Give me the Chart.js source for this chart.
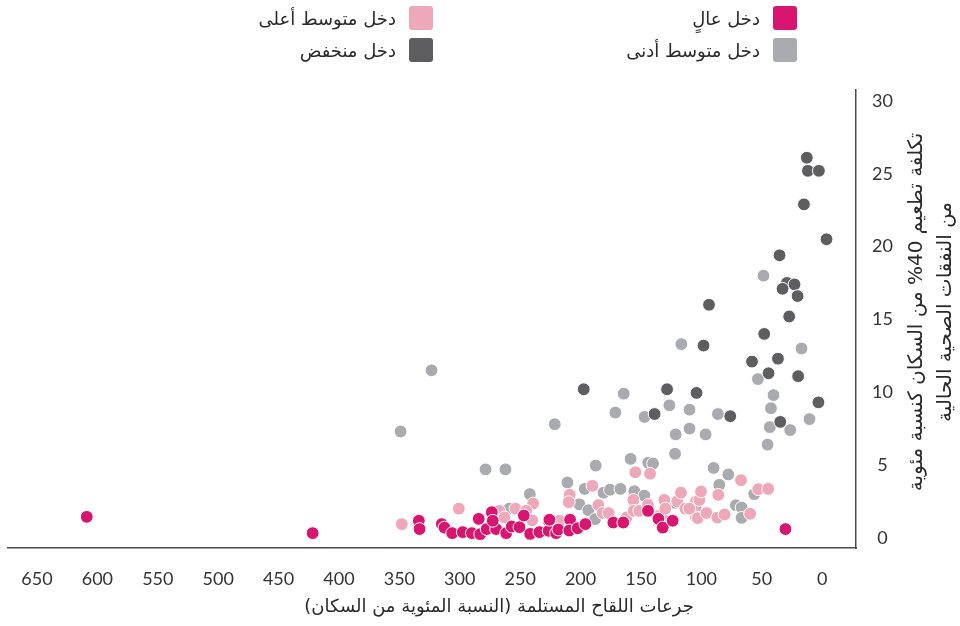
<!DOCTYPE html>
<html lang="ar">
<head>
<meta charset="utf-8">
<script src="https://cdn.jsdelivr.net/npm/chart.js@4.4.1/dist/chart.umd.min.js"></script>
<style>
html,body{margin:0;padding:0;background:#fff;}
#wrap{position:relative;width:960px;height:626px;overflow:hidden;}
#c{position:absolute;left:0;top:0;}
.lg{position:absolute;direction:rtl;display:flex;align-items:center;font-family:"DejaVu Sans",sans-serif;font-size:18px;color:#2a2a2a;white-space:nowrap;height:24px;}
.sw{width:24px;height:24px;border-radius:3px;margin-left:13px;flex:none;}
</style>
</head>
<body>
<div id="wrap">
<canvas id="c" width="960" height="626"></canvas>
<div id="legend"></div>
</div>
<script>
// ---- data (x = vaccine doses received, % of population; y = cost as % of current health expenditure)
const seriesNames = ["دخل عالٍ", "دخل متوسط أدنى", "دخل متوسط أعلى", "دخل منخفض"];
const seriesColors = ["#D8166F", "#AAABAF", "#EEA8BA", "#5E5E61"];

const highIncome = [
  [608.8,1.44],[421.8,0.32],[333.9,1.17],[333.3,0.6],[314.9,0.94],[312.7,0.7],[306.3,0.32],
  [297.5,0.39],[290,0.32],[284.3,1.3],[283.1,0.25],[273.5,1.76],[277.7,0.6],[269.9,0.6],
  [272.7,1.17],[261.6,0.32],[257,0.78],[250.6,0.73],[247,1.53],[241.8,0.27],[234.1,0.39],
  [226.4,1.17],[226.4,0.48],[220.3,0.32],[225.8,1.24],[208.7,1.24],[218.4,0.57],[209.3,0.5],
  [202.4,0.66],[196,0.94],[172.9,1.05],[164.6,1.05],[144.2,1.85],[135.6,1.3],[132,0.7],
  [123.8,1.17],[30.4,0.6]
];
const upperMiddle = [
  [348,0.94],[300.8,2.0],[239.3,2.35],[267.2,1.85],[253.9,2.0],[245,1.85],[263,1.4],[240,1.2],
  [219,1.1],[217.5,1.17],[209,2.95],[209.8,2.45],[190.2,3.57],[185.3,2.25],[181.7,1.7],
  [176.7,1.7],[161.9,1.4],[156.3,2.6],[156,1.85],[151.4,1.85],[154.7,4.5],[142.5,4.4],
  [144.2,2.26],[135,1.5],[132,1.3],[130.7,2.6],[129.9,2.0],[120,2.5],[116.9,3.1],[113.3,2.0],
  [104.5,2.5],[104.5,2.0],[104.5,1.4],[110,2.0],[103,1.35],[101.7,2.6],[100.3,3.18],
  [95.7,1.7],[86,2.95],[86.8,1.39],[80.8,1.6],[67.2,3.96],[59.6,1.65],[52.9,3.34],[44.7,3.36]
];
const lowerMiddle = [
  [349,7.3],[323.4,11.5],[278.7,4.7],[262.2,4.7],[242,3.0],[259,2.0],[221.4,7.8],[210.9,3.8],
  [201,2.3],[196.6,3.36],[193.5,1.9],[188,1.28],[187.5,4.96],[181,3.1],[175.6,3.3],[171.2,8.6],
  [167,3.36],[164.3,9.9],[158.6,5.42],[155.5,3.2],[147.2,2.9],[147,8.3],[144,5.15],[140,5.1],
  [126.5,9.1],[121.8,5.77],[121.8,2.4],[121.3,7.1],[116.6,13.3],[109.8,8.8],[109.8,7.5],
  [96.5,7.1],[89.9,4.8],[86.3,8.5],[85.2,3.64],[77.7,4.35],[71.4,2.24],[66.7,2.08],[66.7,1.37],
  [56.2,3.0],[53.2,10.9],[48.6,18.0],[45.2,6.4],[43.3,7.6],[42.4,8.9],[40.3,9.8],[26.5,7.4],
  [17.1,13.0],[10.5,8.15]
];
const lowIncome = [
  [12.7,26.1],[11.8,25.2],[2.7,25.2],[15.1,22.9],[-3.6,20.5],[35.3,19.4],[29.2,17.5],[22.9,17.4],
  [32.8,17.1],[20.4,16.6],[93.7,16.0],[27.3,15.2],[48,14.0],[98.2,13.2],[58.1,12.1],[36.6,12.3],
  [44.4,11.3],[19.9,11.1],[197.4,10.2],[128.4,10.2],[104,9.95],[3.1,9.3],[138.7,8.5],[76.1,8.35],
  [34.7,7.96]
];
const xTicks = [650,600,550,500,450,400,350,300,250,200,150,100,50,0];
const yTicks = [0,5,10,15,20,25,30];
const xTitle = "جرعات اللقاح المستلمة (النسبة المئوية من السكان)";
const yTitle = ["تكلفة تطعيم 40% من السكان كنسبة مئوية", "من النفقات الصحية الحالية"];

// ---- legend (HTML, two columns, right-to-left)
const legendPos = [[163,6],[163,38],[527,6],[527,38]];
const lg = document.getElementById('legend');
seriesNames.forEach((n,i)=>{
  const d=document.createElement('div'); d.className='lg';
  d.style.right=legendPos[i][0]+'px'; d.style.top=legendPos[i][1]+'px';
  const s=document.createElement('span'); s.className='sw'; s.style.background=seriesColors[i];
  const t=document.createElement('span'); t.textContent=n;
  d.appendChild(s); d.appendChild(t); lg.appendChild(d);
});

const toPts = a => a.map(p=>({x:p[0], y:p[1]}));
const mk = (label, arr, color) => ({
  label, data: toPts(arr), backgroundColor: color, borderColor:'#ffffff', borderWidth:1,
  pointRadius:6.4, pointHoverRadius:6.4
});

const titlePlugin = {
  id:'titles',
  afterDraw(chart){
    const ctx = chart.ctx;
    ctx.save();
    ctx.fillStyle = '#2a2a2a';
    ctx.font = '18px "DejaVu Sans", sans-serif';
    ctx.direction = 'rtl';
    ctx.textAlign = 'center';
    ctx.textBaseline = 'middle';
    ctx.fillText(xTitle, 499, 607);
    ctx.font = '20px "DejaVu Sans", sans-serif';
    ctx.translate(917, 312);
    ctx.rotate(-Math.PI/2);
    ctx.fillText(yTitle[0], 0, 0);
    ctx.fillText(yTitle[1], 0, 29);
    ctx.restore();
  }
};

new Chart(document.getElementById('c'), {
  type:'scatter',
  data:{ datasets:[
    mk(seriesNames[0], highIncome, seriesColors[0]),
    mk(seriesNames[2], upperMiddle, seriesColors[2]),
    mk(seriesNames[3], lowIncome, seriesColors[3]),
    mk(seriesNames[1], lowerMiddle, seriesColors[1])
  ]},
  options:{
    responsive:false, animation:false, events:[],
    layout:{ padding:{ left:8, top:90, right:0, bottom:0 } },
    plugins:{ legend:{display:false}, tooltip:{enabled:false} },
    scales:{
      x:{
        type:'linear', reverse:true, min:-28, max:674,
        afterBuildTicks: s => { s.ticks = xTicks.map(v=>({value:v})); },
        afterFit: s => { s.height = 78; },
        grid:{ display:false, drawTicks:false },
        border:{ display:true, color:'#4a4a4a', width:1.5 },
        ticks:{ padding:20, color:'#333', font:{ family:'Lato', size:18 }, maxRotation:0, autoSkip:false }
      },
      y:{
        type:'linear', position:'right', min:-0.7, max:30.75,
        afterBuildTicks: s => { s.ticks = yTicks.map(v=>({value:v})); },
        afterFit: s => { s.width = 104; },
        grid:{ display:false, drawTicks:false },
        border:{ display:true, color:'#4a4a4a', width:1.5 },
        ticks:{ padding:16, crossAlign:'center', color:'#333', font:{ family:'Lato', size:18 } }
      }
    }
  },
  plugins:[titlePlugin]
});
</script>
</body>
</html>
